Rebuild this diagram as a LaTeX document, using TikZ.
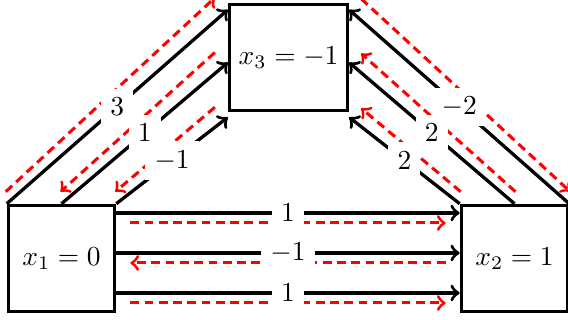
\documentclass[tikz,border=0pt]{standalone}
\usetikzlibrary{calc}
\tikzset{
  box/.style  = {draw, line width=1.2pt, fill=white,
                 minimum width=1.36cm, minimum height=1.36cm},
  link/.style = {->, line width=1.2pt},
  msg/.style  = {->, red, line width=1.1pt, dash pattern=on 3.2pt off 2pt},
  wlbl/.style = {fill=white, font=\normalsize},
}
\begin{document}
\begin{tikzpicture}[x=0.0128cm, y=0.0128cm]
  \useasboundingbox (0,0) rectangle (568,320);
  % variable boxes
  \node[box] (x1) at (61.5,61.5)   {$x_1 = 0$};
  \node[box] (x2) at (514.5,61.5)  {$x_2 = 1$};
  \node[box] (x3) at (288.5,262.5) {$x_3 = -1$};
  % red messages first, so the labels cover them
  \draw[msg] ($(x1.north west)+(-1,12)$) -- ($(x3.north west)+(-13,5)$);
  \draw[msg] ($(x3.west)+(-13,5)$) -- ($(x1.north)+(-1,12)$);
  \draw[msg] ($(x3.south west)+(-13,5)$) -- ($(x1.north east)+(-1,12)$);
  \draw[msg] ($(x3.north east)+(12,4)$) -- ($(x2.north east)+(1,12)$);
  \draw[msg] ($(x2.north)+(1,12)$) -- ($(x3.east)+(12,4)$);
  \draw[msg] ($(x2.north west)+(1,12)$) -- ($(x3.south east)+(12,4)$);
  \draw[msg] ($(x1.east)+(14,35.5)$) -- ($(x2.west)+(-14,35.5)$);
  \draw[msg] ($(x2.west)+(-14,-4.5)$) -- ($(x1.east)+(14,-4.5)$);
  \draw[msg] ($(x1.east)+(14,-44.5)$) -- ($(x2.west)+(-14,-44.5)$);
  % x1 to x3
  \draw[link] (x1.north west) -- ($(x3.north west)+(0,-7)$) node[wlbl, midway] {$3$};
  \draw[link] (x1.north) -- ($(x3.west)+(0,-5)$) node[wlbl, midway] {$1$};
  \draw[link] (x1.north east) -- ($(x3.south west)+(0,-5)$) node[wlbl, midway] {$-1$};
  % x2 to x3
  \draw[link] (x2.north east) -- ($(x3.north east)+(0,-7)$) node[wlbl, midway] {$-2$};
  \draw[link] (x2.north) -- ($(x3.east)+(0,-5)$) node[wlbl, midway] {$2$};
  \draw[link] (x2.north west) -- ($(x3.south east)+(0,-5)$) node[wlbl, midway] {$2$};
  % x1 to x2
  \draw[link] ($(x1.east)+(0,45.5)$) -- ($(x2.west)+(0,45.5)$) node[wlbl, midway] {$1$};
  \draw[link] ($(x1.east)+(0,5.5)$) -- ($(x2.west)+(0,5.5)$) node[wlbl, midway] {$-1$};
  \draw[link] ($(x1.east)+(0,-34.5)$) -- ($(x2.west)+(0,-34.5)$) node[wlbl, midway] {$1$};
\end{tikzpicture}
\end{document}
